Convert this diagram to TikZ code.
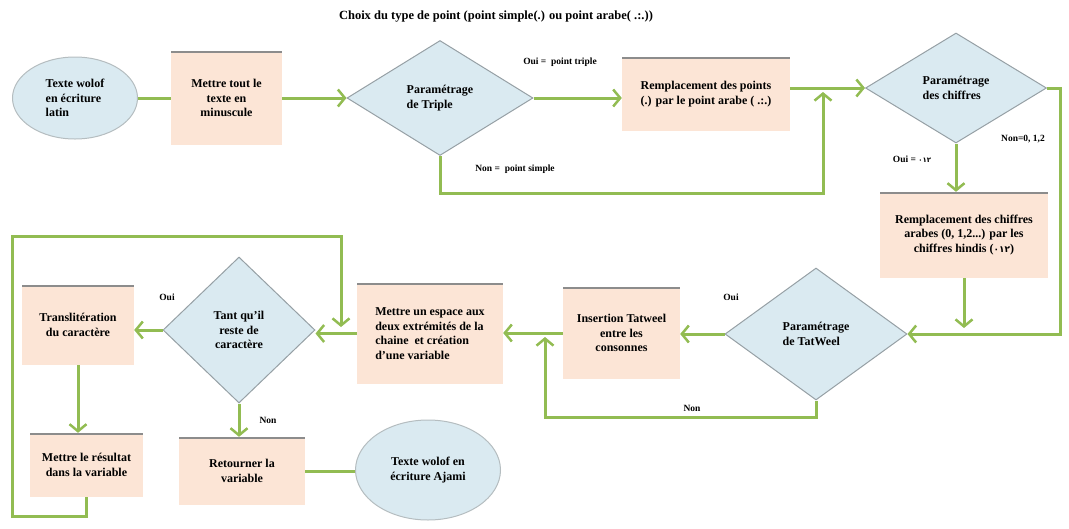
\documentclass[tikz,border=0pt]{standalone}
\usepackage{fontspec}
\setmainfont{Liberation Serif}
\newfontfamily\arabicfont[Script=Arabic]{DejaVu Sans}
\usetikzlibrary{shapes.geometric,arrows.meta}
\definecolor{flowgreen}{RGB}{146,188,82}
\definecolor{boxfill}{RGB}{252,229,214}
\definecolor{bluefill}{RGB}{218,234,241}
\definecolor{edgegray}{RGB}{150,160,165}
\definecolor{topgray}{RGB}{140,140,140}
\tikzset{
  procbox/.style={rectangle, fill=boxfill, inner sep=2pt, align=center,
    font=\bfseries\fontsize{12}{14.5}\selectfont,
    path picture={\draw[topgray, line width=3pt] (path picture bounding box.north west) -- (path picture bounding box.north east);}},
  decision/.style={diamond, fill=bluefill, draw=edgegray, line width=1pt, inner sep=0pt, align=left,
    font=\bfseries\fontsize{12}{14.5}\selectfont},
  terminal/.style={ellipse, fill=bluefill, draw=edgegray!70, line width=1pt, inner sep=0pt,
    font=\bfseries\fontsize{12}{14.5}\selectfont},
  link/.style={draw=flowgreen, line width=3pt},
  arr/.style={link, -{Straight Barb[length=7pt,width=17pt,line width=2.5pt]}},
  lbl/.style={font=\bfseries\fontsize{9.5}{11}\selectfont, inner sep=0pt},
}
\begin{document}
\begin{tikzpicture}[x=1pt,y=-1pt]
\useasboundingbox (0,0) rectangle (1069,528);

% nodes
\node[terminal, minimum width=125, minimum height=82, align=left] (e1) at (75,98) {Texte wolof\\en écriture\\latin};
\node[procbox, minimum width=111, minimum height=94] (b1) at (226.5,98) {Mettre tout le\\texte en\\minuscule};
\node[decision, minimum width=186, minimum height=115] (d1) at (440,98) {Paramétrage\\de Triple};
\node[procbox, minimum width=168, minimum height=74] (b2) at (706,94) {Remplacement des points\\(.) par le point arabe ( .:.)};
\node[decision, minimum width=181, minimum height=110] (d2) at (956,88) {Paramétrage\\des chiffres};
\node[procbox, minimum width=168, minimum height=86] (b3) at (964,235) {Remplacement des chiffres\\arabes (0, 1,2...) par les\\chiffres hindis ({\arabicfont\fontsize{9}{10}\selectfont ٠١٢})};
\node[decision, minimum width=182, minimum height=132] (d3) at (816,334) {Paramétrage\\de TatWeel};
\node[procbox, minimum width=117, minimum height=92] (b4) at (621.5,333) {Insertion Tatweel\\entre les\\consonnes};
\node[procbox, minimum width=146, minimum height=101, align=left] (b5) at (430,333.5) {Mettre un espace aux\\deux extrémités de la\\chaine\ \ et création\\d'une variable};
\node[decision, minimum width=152, minimum height=146, align=center] (d4) at (239,330) {Tant qu'il\\reste de\\caractère};
\node[procbox, minimum width=112, minimum height=80] (b6) at (78,325) {Translitération\\du caractère};
\node[procbox, minimum width=113, minimum height=64] (b7) at (86.5,465) {Mettre le résultat\\dans la variable};
\node[procbox, minimum width=126, minimum height=68] (b8) at (242,471) {Retourner la\\variable};
\node[terminal, minimum width=145, minimum height=100, align=center] (e2) at (428,470) {Texte wolof en\\écriture Ajami};

% labels
\node[font=\bfseries\fontsize{12.5}{14}\selectfont, inner sep=0pt] (title) at (496,17) {Choix du type de point (point simple(.) ou point arabe( .:.))};
\node[lbl] (l1) at (560,62) {Oui =\ \ point triple};
\node[lbl] (l2) at (515,169) {Non =\ \ point simple};
\node[lbl] (l3) at (912,159) {Oui = {\arabicfont\fontsize{7}{8}\selectfont ٠١٢}};
\node[lbl] (l4) at (1023,139) {Non=0, 1,2};
\node[lbl] (l5) at (731,297) {Oui};
\node[lbl] (l6) at (692,408) {Non};
\node[lbl] (l7) at (167,297) {Oui};
\node[lbl] (l8) at (268,420) {Non};

% junction coordinates
\coordinate (j1) at (823,92);
\coordinate (j2) at (964,328);
\coordinate (j3) at (545,337);
\coordinate (c1) at (12,236);
\coordinate (j4) at (341,327);

% connectors
\draw[link] (e1.east) -- (e1.east -| b1.west);
\draw[arr] (b1.east) -- (b1.east -| d1.west);
\draw[arr] (d1.east) -- (d1.east -| b2.west);
\draw[arr] (b2.east |- d2.west) -- (d2.west);
\draw[arr] (d1.south) -- ++(0,37) -| (j1);
\draw[arr] (d2.south) -- (d2.south |- b3.north);
\draw[arr] (d2.east) -- ++(13.5,0) |- (d3.east);
\draw[arr] (b3.south) -- (j2);
\draw[arr] (d3.west) -- (d3.west -| b4.east);
\draw[arr] (d3.south) -- ++(0,17) -| (j3);
\draw[arr] (b4.west) -- (b4.west -| b5.east);
\draw[arr] (b5.west) -- (b5.west -| d4.east);
\draw[arr] (d4.west) -- (d4.west -| b6.east);
\draw[arr] (b6.south) -- (b6.south |- b7.north);
\draw[arr] (b7.south) -- ++(0,19) -| (c1) -| (j4);
\draw[arr] (d4.south) -- (d4.south |- b8.north);
\draw[link] (b8.east) -- (b8.east -| e2.west);
\end{tikzpicture}
\end{document}
